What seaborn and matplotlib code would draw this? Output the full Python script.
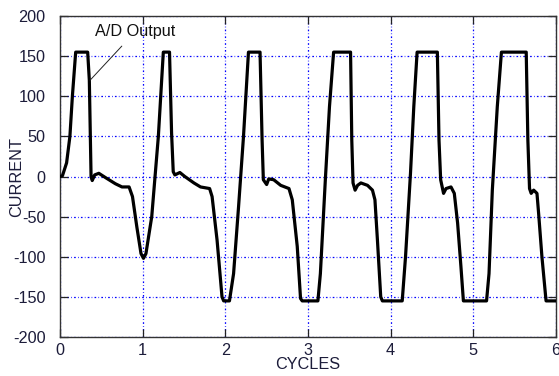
import matplotlib
matplotlib.use("Agg")
import matplotlib.pyplot as plt
import seaborn as sns
import pandas as pd

cycles = [0.00, 0.03, 0.08, 0.12, 0.15, 0.19, 0.335, 0.355, 0.376, 0.39, 0.42, 0.47, 0.545,
          0.67, 0.75, 0.836, 0.877, 0.93, 0.98, 1.01, 1.04, 1.11, 1.19, 1.25, 1.325, 1.35,
          1.37, 1.39, 1.45, 1.51, 1.62, 1.70, 1.81, 1.84, 1.90, 1.96, 1.98, 2.05, 2.10,
          2.16, 2.22, 2.28, 2.42, 2.445, 2.46, 2.50, 2.525, 2.585, 2.67, 2.77, 2.81, 2.87,
          2.91, 2.93, 3.12, 3.15, 3.21, 3.26, 3.31, 3.515, 3.53, 3.545, 3.57, 3.60, 3.64,
          3.72, 3.78, 3.81, 3.84, 3.88, 3.90, 4.14, 4.18, 4.24, 4.28, 4.32, 4.565, 4.585,
          4.605, 4.64, 4.67, 4.73, 4.77, 4.81, 4.85, 4.88, 5.16, 5.19, 5.23, 5.29, 5.34,
          5.64, 5.66, 5.68, 5.70, 5.73, 5.77, 5.79, 5.83, 5.88, 6.00]
current = [0, 1, 17, 50, 100, 155, 155, 120, 0, -5, 2, 4, -1,
           -9, -13, -13, -25, -63, -96, -102, -96, -50, 50, 155, 155, 54,
           6, 2, 5, 0, -8, -13, -15, -25, -79, -150, -155, -155, -121,
           -38, 50, 155, 155, 45, -4, -10, -3, -4, -11, -15, -29, -87,
           -152, -155, -155, -121, -4, 87, 155, 155, 45, -8, -17, -11, -8,
           -11, -17, -29, -79, -150, -155, -155, -100, 4, 87, 155, 155, 45,
           -4, -21, -15, -13, -21, -58, -112, -155, -155, -121, -17, 87, 155,
           155, 45, -15, -21, -17, -21, -46, -100, -155, -155]

xticks = [0, 1, 2, 3, 4, 5, 6]
yticks = [-200, -150, -100, -50, 0, 50, 100, 150, 200]
x_label = "CYCLES"
y_label = "CURRENT"
annotation = "A/D Output"

df = pd.DataFrame({"cycles": cycles, "current": current})

sns.set_theme(style="white")
plt.rcParams['font.family'] = ['Liberation Sans', 'DejaVu Sans']
plt.rcParams['lines.scale_dashes'] = False

fig = plt.figure(figsize=(5.59, 3.76), dpi=100)
ax = fig.add_axes([0.1073, 0.1037, 0.8873, 0.8537])

txt_color = '#1c1c3a'
fs = 11.7

ax.grid(True, color='#0000ff', linewidth=0.9, linestyle=(0, (1.2, 1.6, 0.5, 1.6)))
ax.set_axisbelow(True)

sns.lineplot(data=df, x="cycles", y="current", sort=False, estimator=None,
             color='black', linewidth=2.3, ax=ax, zorder=3)

ax.set_xlim(0, 6)
ax.set_ylim(-200, 200)
ax.set_xticks(xticks)
ax.set_yticks(yticks)
ax.set_xticklabels([str(t) for t in xticks])
ax.set_yticklabels([str(t) for t in yticks])

ax.tick_params(axis='both', which='both', direction='in', length=6, width=0.9,
               color='#222222', labelsize=fs, labelcolor=txt_color,
               top=True, right=True, bottom=True, left=True)
ax.tick_params(axis='y', pad=10.5)
ax.tick_params(axis='x', pad=4.3)

for s in ax.spines.values():
    s.set_visible(True)
    s.set_color('#333333')
    s.set_linewidth(1.0)

ax.set_xlabel(x_label, fontsize=fs, color=txt_color, labelpad=-1)
ax.set_ylabel(y_label, fontsize=fs, color=txt_color, labelpad=-8)

ax.annotate(annotation, xy=(0.364, 120), xytext=(0.915, 181),
            fontsize=fs, color='#111111', ha='center', va='center',
            arrowprops=dict(arrowstyle='-', color='#222222', lw=0.7,
                            shrinkA=4, shrinkB=0))

fig.savefig("out.png", dpi=100, facecolor='white')
